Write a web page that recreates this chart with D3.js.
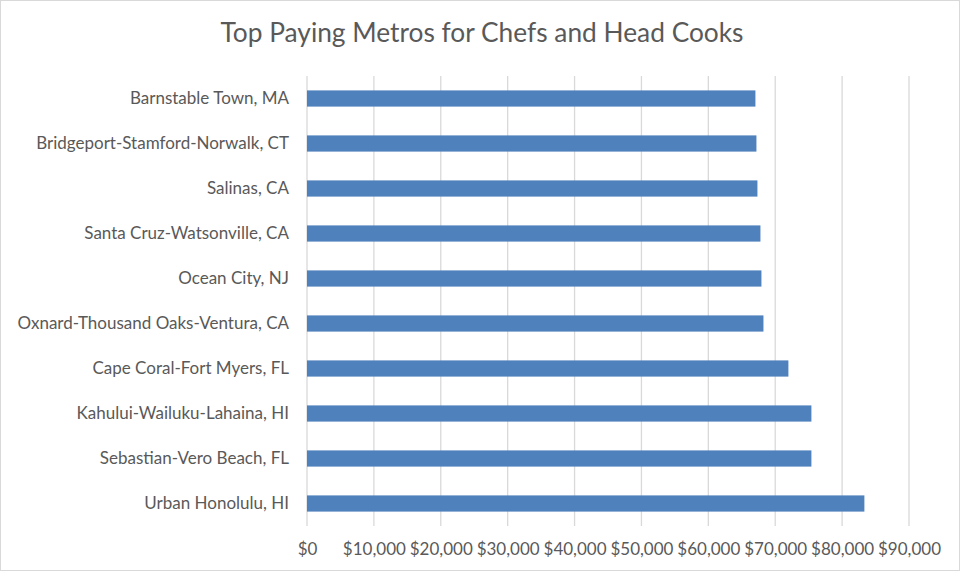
<!DOCTYPE html>
<html>
<head>
<meta charset="utf-8">
<script src="https://cdn.jsdelivr.net/npm/d3@7/dist/d3.min.js"></script>
<style>
  body { margin: 0; background: #fff; }
  svg { display: block; font-family: Lato, "Open Sans", sans-serif; }
</style>
</head>
<body>
<svg width="960" height="571"></svg>
<script>
// metros, top to bottom as drawn
var metros = [
  "Barnstable Town, MA",
  "Bridgeport-Stamford-Norwalk, CT",
  "Salinas, CA",
  "Santa Cruz-Watsonville, CA",
  "Ocean City, NJ",
  "Oxnard-Thousand Oaks-Ventura, CA",
  "Cape Coral-Fort Myers, FL",
  "Kahului-Wailuku-Lahaina, HI",
  "Sebastian-Vero Beach, FL",
  "Urban Honolulu, HI"
];
// annual mean wage
var wages = [67040, 67190, 67340, 67790, 67940, 68240, 71970, 75410, 75410, 83330];
var ticks = [0, 10000, 20000, 30000, 40000, 50000, 60000, 70000, 80000, 90000];

var svg = d3.select("svg"),
    width = 960,
    height = 571,
    plotLeft = 307,
    plotRight = 909,
    plotTop = 76,
    plotBottom = 526;

// chart border
svg.append("rect")
  .attr("x", 0.5).attr("y", 0.5)
  .attr("width", width - 1).attr("height", height - 1)
  .attr("fill", "none")
  .attr("stroke", "#d9d9d9");

var x = d3.scaleLinear().domain([0, 90000]).range([plotLeft, plotRight]);
var y = d3.scaleBand().domain(metros).range([plotTop, plotBottom]).paddingInner(0.64).paddingOuter(0.32);

// title
svg.append("text")
  .attr("x", 482).attr("y", 42)
  .attr("text-anchor", "middle")
  .attr("fill", "#595959")
  .style("font-size", "26.3px")
  .text("Top Paying Metros for Chefs and Head Cooks");

// gridlines
svg.append("g").selectAll("line")
  .data(ticks)
  .enter().append("line")
  .attr("x1", function (d) { return x(d); })
  .attr("x2", function (d) { return x(d); })
  .attr("y1", plotTop)
  .attr("y2", plotBottom)
  .attr("stroke", "#d9d9d9")
  .attr("stroke-width", 1.3);

// bars
svg.append("g").selectAll("rect")
  .data(wages)
  .enter().append("rect")
  .attr("x", x(0))
  .attr("y", function (d, i) { return y(metros[i]); })
  .attr("width", function (d) { return x(d) - x(0); })
  .attr("height", y.bandwidth())
  .attr("fill", "#4f81bd");

// x axis labels
var xAxis = d3.axisBottom(x)
  .tickValues(ticks)
  .tickSize(0)
  .tickPadding(0)
  .tickFormat(function (d) { return "$" + d3.format(",")(d); });
var gx = svg.append("g")
  .attr("transform", "translate(0," + (plotBottom + 17) + ")")
  .call(xAxis);
gx.select(".domain").remove();
gx.selectAll("text")
  .attr("fill", "#595959")
  .style("font-size", "17px")
  .style("font-family", "Lato, 'Open Sans', sans-serif");

// y axis labels
var yAxis = d3.axisLeft(y).tickSize(0).tickPadding(0);
var gy = svg.append("g")
  .attr("transform", "translate(" + (plotLeft - 18) + ",0)")
  .call(yAxis);
gy.select(".domain").remove();
gy.selectAll("text")
  .attr("fill", "#595959")
  .style("font-size", "17px")
  .style("font-family", "Lato, 'Open Sans', sans-serif");
</script>
</body>
</html>
